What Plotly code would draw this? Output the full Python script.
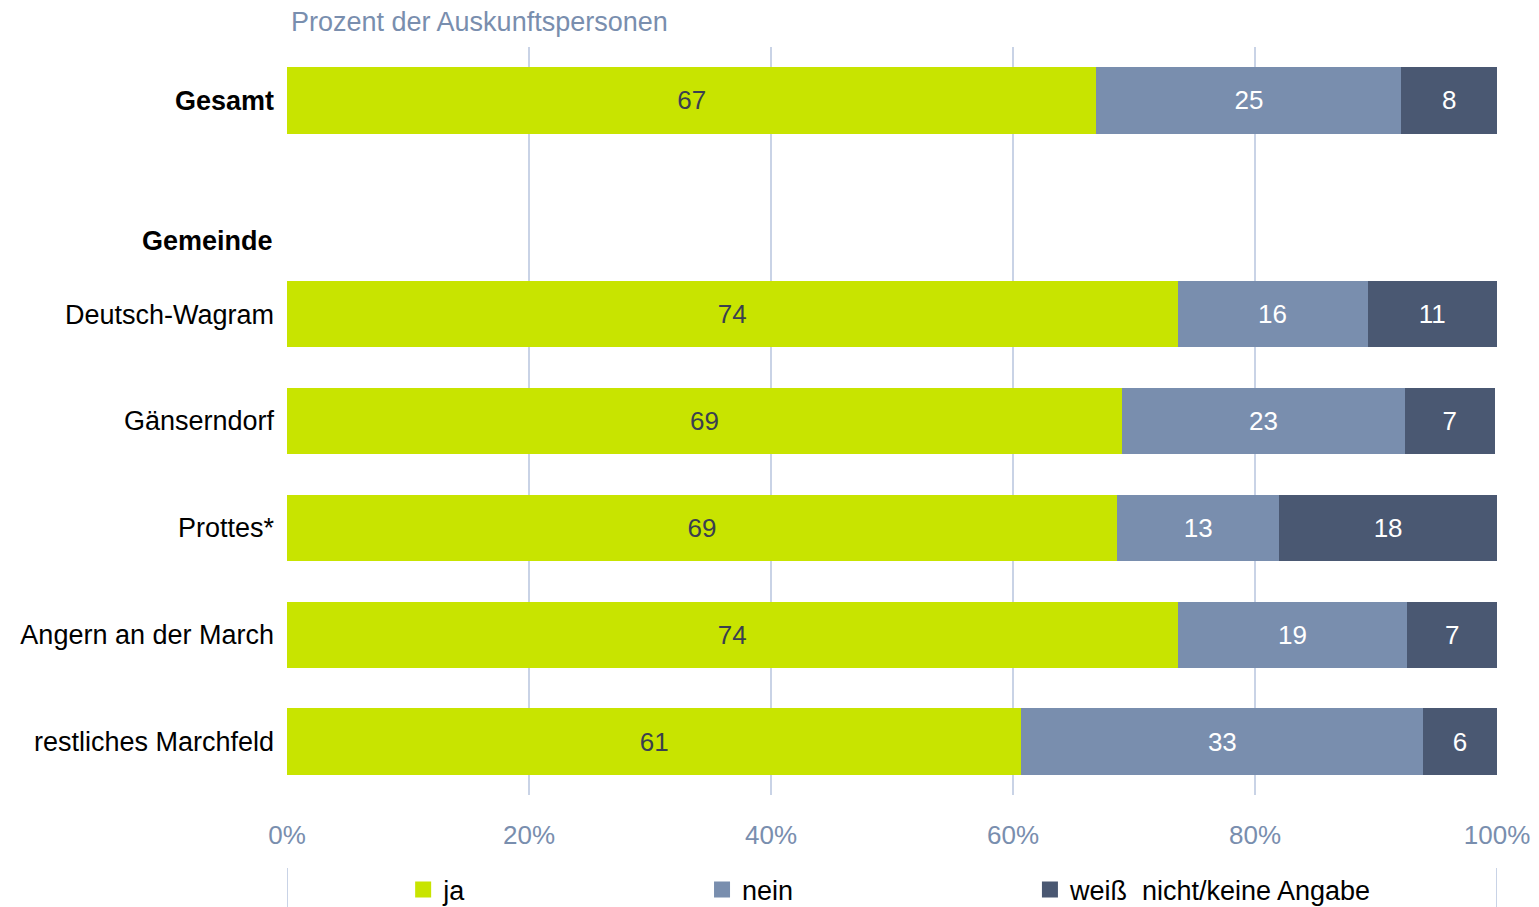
import plotly.graph_objects as go

categories = ["<b>Gesamt</b>", "Deutsch-Wagram", "Gänserndorf", "Prottes*", "Angern an der March", "restliches Marchfeld"]
positions = [0, 2, 3, 4, 5, 6]
ja = [66.9, 73.6, 69.0, 68.6, 73.6, 60.7]
nein = [25.2, 15.7, 23.4, 13.4, 19.0, 33.2]
weiss = [7.9, 10.7, 7.4, 18.0, 7.4, 6.1]
x_ticks = [0, 20, 40, 60, 80, 100]
x_tick_labels = ["0%", "20%", "40%", "60%", "80%", "100%"]

FONT = "Liberation Sans, Arial, sans-serif"
FS = 26
FL = 27
series = [
    ("ja", ja, "#C8E400", "#3A3F4F", "legend", 0.096),
    ("nein", nein, "#798EAE", "#FFFFFF", "legend2", 0.343),
    ("weiß  nicht/keine Angabe", weiss, "#4A5872", "#FFFFFF", "legend3", 0.614),
]

fig = go.Figure()
for name, vals, col, tcol, lg, lx in series:
    fig.add_trace(go.Bar(
        y=positions, x=vals, orientation="h", name=name,
        marker=dict(color=col, line=dict(width=0)),
        width=0.62, showlegend=False, legendgroup=name,
        text=[f"{v:.0f}" for v in vals], textposition="inside",
        insidetextanchor="middle",
        textfont=dict(color=tcol, size=FS, family=FONT),
        hoverinfo="skip",
    ))
    # legend entry (square swatch)
    fig.add_trace(go.Scatter(
        x=[None], y=[None], mode="markers", name=name, legend=lg, legendgroup=name,
        marker=dict(symbol="square", size=16, color=col, line=dict(width=0)),
        showlegend=True, hoverinfo="skip",
    ))

legend_common = dict(orientation="h", xanchor="left", y=-0.127, yanchor="middle",
                     font=dict(size=FL, color="black", family=FONT),
                     itemclick=False, itemdoubleclick=False, bgcolor="rgba(0,0,0,0)")

fig.update_layout(
    barmode="stack",
    width=1539, height=907,
    margin=dict(l=279, r=50, t=39, b=120, autoexpand=False),
    plot_bgcolor="white", paper_bgcolor="white",
    font=dict(family=FONT, size=FS, color="black"),
    uniformtext=dict(minsize=FS, mode="show"),
    xaxis=dict(range=[0, 100], tickvals=x_ticks, ticktext=x_tick_labels,
               showgrid=True, gridcolor="#C9D3E6", gridwidth=2,
               zeroline=False, showline=False, automargin=False,
               tickfont=dict(color="#798EAE", size=FS, family=FONT),
               ticks="", ticklabelstandoff=22, fixedrange=True),
    yaxis=dict(range=[6.5, -0.5], tickvals=positions, ticktext=categories,
               showgrid=False, zeroline=False, showline=False, automargin=False,
               tickfont=dict(color="black", size=FL, family=FONT),
               ticks="", ticklabelstandoff=12),
    legend=dict(x=0.096, **legend_common),
    legend2=dict(x=0.343, **legend_common),
    legend3=dict(x=0.614, **legend_common),
    showlegend=True,
)

fig.add_annotation(x=0.002, xref="paper", xanchor="left", y=1 + (47 - 22) / 748, yref="paper",
                   yanchor="middle", text="Prozent der Auskunftspersonen", showarrow=False,
                   font=dict(color="#798EAE", size=FL, family=FONT))

fig.add_annotation(x=0, xref="paper", xanchor="right", xshift=-12, y=1.32, yref="y", yanchor="middle",
                   text="<b>Gemeinde</b>", showarrow=False,
                   font=dict(color="black", size=FL, family=FONT))

for xv in [0, 100]:
    fig.add_shape(type="line", xref="x", yref="paper", x0=xv, x1=xv,
                  y0=-(868 - 795) / 748, y1=-(907 - 795) / 748,
                  line=dict(color="#C9D3E6", width=2))

fig.write_html("out.html")
